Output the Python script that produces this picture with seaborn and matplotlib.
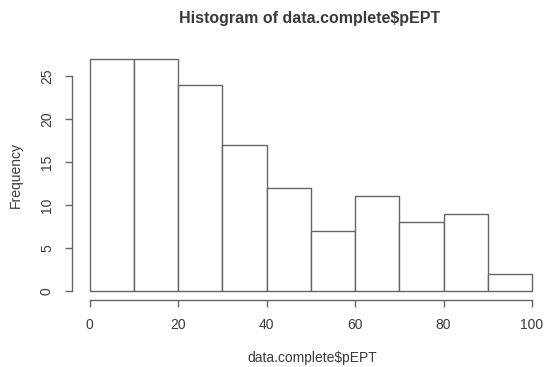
import matplotlib
matplotlib.use("Agg")
import matplotlib.pyplot as plt
import seaborn as sns
import pandas as pd

bin_edges = [0, 10, 20, 30, 40, 50, 60, 70, 80, 90, 100]
bin_mids = [5, 15, 25, 35, 45, 55, 65, 75, 85, 95]
counts = [27, 27, 24, 17, 12, 7, 11, 8, 9, 2]
x_ticks = [0, 20, 40, 60, 80, 100]
y_ticks = [0, 5, 10, 15, 20, 25]

df = pd.DataFrame({"pEPT": bin_mids, "n": counts})

sns.set_style("white")
plt.rcParams['font.family'] = ['Liberation Sans', 'DejaVu Sans']
txt = '#3a3a3a'
lc = '#666666'
W, H = 544, 367
fig = plt.figure(figsize=(W / 100, H / 100), dpi=100)
left, right, top, bottom = 72, 544, 49.5, 300.3
ax = fig.add_axes([left / W, 1 - bottom / H, (right - left) / W, (bottom - top) / H])

sns.histplot(data=df, x="pEPT", weights="n", bins=bin_edges, ax=ax,
             color="white", edgecolor=lc, linewidth=1.0, alpha=1)

ax.set_xlim(-4, 100 + (544 - 532) / 4.42)
ax.set_ylim(-1.08, 28.08)
for s in ["top", "right"]:
    ax.spines[s].set_visible(False)
ax.spines["left"].set_bounds(0, 25)
ax.spines["bottom"].set_bounds(0, 100)
for s in ["left", "bottom"]:
    ax.spines[s].set_color(lc)
    ax.spines[s].set_linewidth(1.0)
ax.set_xticks(x_ticks)
ax.set_yticks(y_ticks)
ax.set_xticklabels([str(t) for t in x_ticks])
ax.set_yticklabels([str(t) for t in y_ticks], rotation=90, va="center")
ax.tick_params(axis="both", direction="out", length=5, width=1.0, color=lc,
               labelsize=10, labelcolor=txt, pad=8, left=True, bottom=True)
ax.set_xlabel("data.complete$pEPT", fontsize=10, color=txt)
ax.xaxis.set_label_coords((312 - left) / (right - left), -(358 - bottom) / (bottom - top), transform=ax.transAxes)
ax.xaxis.label.set_va("center")
ax.set_ylabel("Frequency", fontsize=10, color=txt, labelpad=12)
fig.text(310 / W, 1 - 18 / H, "Histogram of data.complete$pEPT", ha="center", va="center",
         fontsize=11.5, fontweight="bold", color=txt)
ax.grid(False)
fig.savefig("out.png", dpi=100)
